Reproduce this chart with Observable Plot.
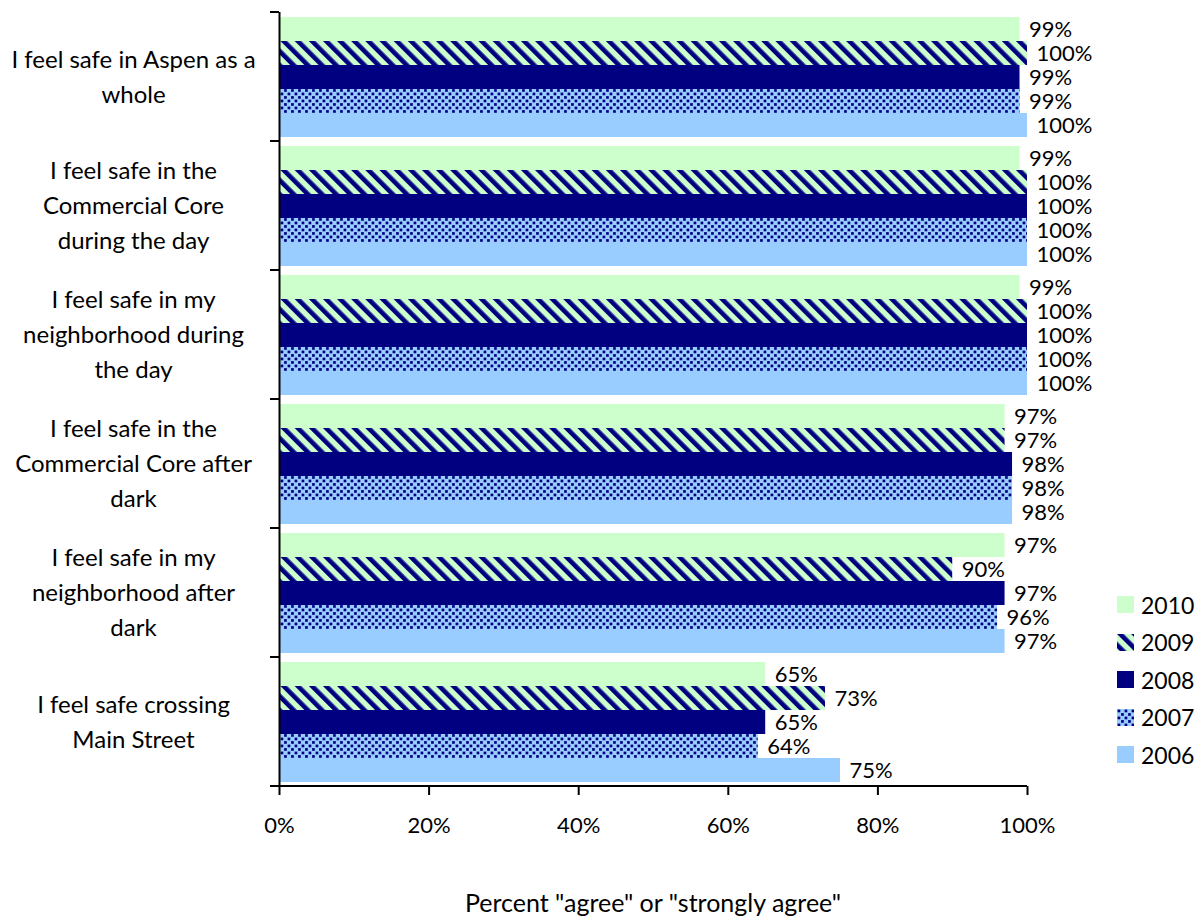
<!DOCTYPE html>
<html>
<head>
<meta charset="utf-8">
<script src="https://cdn.jsdelivr.net/npm/d3@7"></script>
<script src="https://cdn.jsdelivr.net/npm/@observablehq/plot@0.6"></script>
<style>
  body { margin: 0; background: #fff; font-family: Lato, sans-serif; color: #000; }
  #wrap { position: relative; width: 1201px; height: 916px; overflow: hidden; }
  #chart { position: absolute; left: 0; top: 0; }
  #legend { position: absolute; left: 1117px; top: 586px; font-size: 23px; }
  #legend .row { display: flex; align-items: center; height: 37.5px; }
  #legend svg { display: block; margin-right: 7px; }
  #xtitle { position: absolute; left: 279px; width: 748px; top: 889px; text-align: center; font-size: 25px; line-height: 26px; }
  #defs { position: absolute; width: 0; height: 0; }
</style>
</head>
<body>
<svg id="defs" width="0" height="0" aria-hidden="true">
  <defs>
    <pattern id="fill2010" patternUnits="userSpaceOnUse" width="8" height="8">
      <rect width="8" height="8" fill="#CCFFCC"/>
    </pattern>
    <pattern id="fill2009" patternUnits="userSpaceOnUse" width="10" height="10" patternTransform="rotate(-45)">
      <rect width="10" height="10" fill="#CCFFCC"/>
      <rect x="0" width="4.6" height="10" fill="#000080"/>
    </pattern>
    <pattern id="fill2008" patternUnits="userSpaceOnUse" width="8" height="8">
      <rect width="8" height="8" fill="#000080"/>
    </pattern>
    <pattern id="fill2007" patternUnits="userSpaceOnUse" width="7" height="7">
      <rect width="7" height="7" fill="#99CCFF"/>
      <rect x="0.6" y="0.6" width="2.7" height="2.7" fill="#000080"/>
      <rect x="4.1" y="4.1" width="2.7" height="2.7" fill="#000080"/>
    </pattern>
    <pattern id="fill2006" patternUnits="userSpaceOnUse" width="8" height="8">
      <rect width="8" height="8" fill="#99CCFF"/>
    </pattern>
  </defs>
</svg>
<div id="wrap">
  <div id="chart"></div>
  <div id="legend"></div>
  <div id="xtitle">Percent "agree" or "strongly agree"</div>
</div>
<script>
// Survey statements, top to bottom
const categories = [
  "I feel safe in Aspen as a whole",
  "I feel safe in the Commercial Core during the day",
  "I feel safe in my neighborhood during the day",
  "I feel safe in the Commercial Core after dark",
  "I feel safe in my neighborhood after dark",
  "I feel safe crossing Main Street"
];

// Wrapped labels as they appear beside the bars
const categoryLabels = [
  "I feel safe in Aspen as a\nwhole",
  "I feel safe in the\nCommercial Core\nduring the day",
  "I feel safe in my\nneighborhood during\nthe day",
  "I feel safe in the\nCommercial Core after\ndark",
  "I feel safe in my\nneighborhood after\ndark",
  "I feel safe crossing\nMain Street"
];

// Survey years, in bar order within each statement
const years = ["2010", "2009", "2008", "2007", "2006"];

// Percent agreeing, one array per year (same order as categories)
const pct2010 = [99, 99, 99, 97, 97, 65];
const pct2009 = [100, 100, 100, 97, 90, 73];
const pct2008 = [99, 100, 100, 98, 97, 65];
const pct2007 = [99, 100, 100, 98, 96, 64];
const pct2006 = [100, 100, 100, 98, 97, 75];

const xTicks = [0, 20, 40, 60, 80, 100];

const series = { "2010": pct2010, "2009": pct2009, "2008": pct2008, "2007": pct2007, "2006": pct2006 };
const yearFill = y => `url(#fill${y})`;

const rows = [];
categories.forEach((c, i) => {
  years.forEach(y => rows.push({ category: c, year: y, value: series[y][i] }));
});

const plot = Plot.plot({
  width: 1201,
  height: 860,
  marginLeft: 279,
  marginRight: 174,
  marginTop: 11,
  marginBottom: 74,
  style: { fontFamily: "Lato, sans-serif", fontSize: "22px", color: "#000", background: "transparent" },
  x: { domain: [0, 100] },
  y: { domain: years, axis: null, paddingInner: 0, paddingOuter: 0.17 },
  fy: { domain: categories, axis: null, padding: 0 },
  marks: [
    Plot.barX(rows, { x: "value", y: "year", fy: "category", fill: d => yearFill(d.year) }),
    Plot.text(rows, {
      x: "value", y: "year", fy: "category",
      text: d => `${d.value}%`, textAnchor: "start", dx: 9, fill: "#000", fontSize: 22
    }),
    Plot.text(categories, {
      fy: d => d,
      text: (d, i) => categoryLabels[i],
      frameAnchor: "left", dx: -146, dy: -3, textAnchor: "middle", lineHeight: 1.46,
      fill: "#000", fontSize: 24
    }),
    Plot.ruleX([0], { stroke: "#000", strokeWidth: 2 }),
    Plot.axisX({
      ticks: xTicks, tickFormat: d => `${d}%`, tickSize: 9, tickPadding: 22,
      strokeWidth: 2, stroke: "#000", label: null, fontSize: 22
    })
  ]
});

document.getElementById("chart").appendChild(plot);

// Category boundary ticks on the left axis and the bottom axis line
const fy = plot.scale("fy");
const x = plot.scale("x");
const svg = d3.select(plot);
const edges = categories.map(c => fy.apply(c));
edges.push(edges[edges.length - 1] + fy.bandwidth);
const x0 = x.apply(0);
svg.append("g")
  .attr("stroke", "#000")
  .attr("stroke-width", 2)
  .selectAll("line")
  .data(edges)
  .join("line")
  .attr("x1", x0 - 9)
  .attr("x2", (d, i) => i === edges.length - 1 ? x.apply(100) : x0)
  .attr("y1", d => d)
  .attr("y2", d => d);

// Legend
const legend = d3.select("#legend");
years.forEach(y => {
  const row = legend.append("div").attr("class", "row");
  const sw = row.append("svg").attr("width", 17).attr("height", 17);
  sw.append("rect").attr("width", 17).attr("height", 17).attr("fill", yearFill(y));
  row.append("span").text(y);
});
</script>
</body>
</html>
